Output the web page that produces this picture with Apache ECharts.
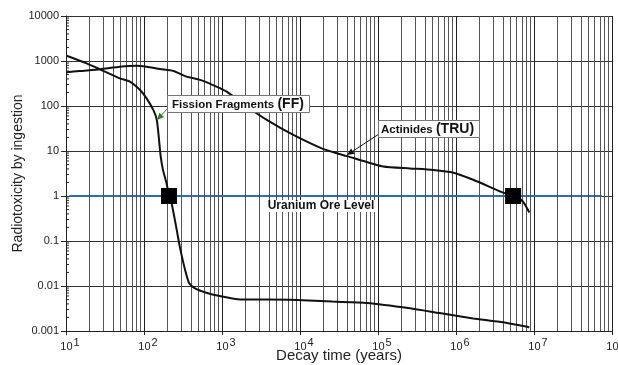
<!DOCTYPE html>
<html>
<head>
<meta charset="utf-8">
<script src="https://cdn.jsdelivr.net/npm/echarts@6/dist/echarts.min.js"></script>
<style>
html,body{margin:0;padding:0;background:#fff;}
#chart{width:618px;height:365px;}
</style>
</head>
<body>
<div id="chart"></div>
<script>
// ---- data ----
var ffTime = [10.2, 18.4, 27.3, 49, 66, 89, 108, 132, 146, 156, 163, 175, 195, 209, 226, 263, 288, 336, 380, 451, 631, 934, 1700, 3700, 9100, 26000, 71600, 257000, 615000, 1660000, 3600000, 7900000, 8700000];
var ffValue = [1312, 887, 653, 412, 348, 227, 148, 81, 49, 17.5, 8, 3.8, 1.9, 1.0, 0.69, 0.175, 0.074, 0.023, 0.0115, 0.0089, 0.0071, 0.006, 0.005, 0.005, 0.0049, 0.0045, 0.0042, 0.0032, 0.0025, 0.0019, 0.0016, 0.00126, 0.0012];
var truTime = [10.2, 15, 27.3, 49, 80, 108, 160, 238, 352, 522, 850, 1150, 2100, 3750, 8100, 20000, 40000, 117000, 257000, 510000, 930000, 1660000, 4100000, 5400000, 6900000, 7600000, 8700000];
var truValue = [561, 600, 653, 746, 787, 746, 662, 600, 450, 380, 270, 208, 96, 49, 23, 11, 7.7, 4.5, 4.1, 3.8, 3.3, 2.3, 1.17, 1.0, 0.81, 0.66, 0.43];
var oreTime = [11, 74000000];
var oreValue = [1, 1];
var crossTime = [209, 5400000];
var crossValue = [1, 1];
var yTickLabels = {'-3':'0.001','-2':'0.01','-1':'0.1','0':'1','1':'10','2':'100','3':'1000','4':'10000'};
var xAxisName = 'Decay time (years)';
var yAxisName = 'Radiotoxicity by ingestion';
var ffLabel = 'Fission Fragments';
var ffAbbr = '(FF)';
var truLabel = 'Actinides';
var truAbbr = '(TRU)';
var oreLabel = 'Uranium Ore Level';

function zip(a, b) { return a.map(function (v, i) { return [v, b[i]]; }); }

// minor grid lines at 2..9 x 10^d (vertical)
var vMinor = [];
for (var d = 1; d < 8; d++) {
  for (var k = 2; k <= 9; k++) vMinor.push({ xAxis: k * Math.pow(10, d) });
}
// y minor ticks
var yMinorTicks = [];
for (var e = -3; e < 4; e++) {
  for (var k2 = 2; k2 <= 9; k2++) yMinorTicks.push([10, k2 * Math.pow(10, e)]);
}

var chart = echarts.init(document.getElementById('chart'), null, { renderer: 'canvas' });
var font = '"Liberation Sans", Arial, Helvetica, sans-serif';

var option = {
  animation: false,
  backgroundColor: '#fff',
  textStyle: { fontFamily: font },
  grid: { left: 66, top: 16, right: 6, bottom: 34, containLabel: false, outerBoundsMode: 'none' },
  xAxis: {
    type: 'log', logBase: 10, min: 10, max: 1e8, splitNumber: 7,
    name: xAxisName, nameLocation: 'middle', nameGap: 17, nameMoveOverlap: false,
    nameTextStyle: { fontSize: 15, color: '#222', fontFamily: font },
    axisLine: { show: true, lineStyle: { color: '#222', width: 1 } },
    axisTick: { show: true, length: 4, lineStyle: { color: '#222' } },
    axisLabel: {
      margin: 6, color: '#222',
      formatter: function (v) {
        var ex = Math.round(Math.log10(v));
        return '{b|10}{s|' + ex + '}';
      },
      rich: {
        b: { fontSize: 11, fontFamily: font, color: '#222', padding: [0, 0, 0, 8] },
        s: { fontSize: 11, fontFamily: font, color: '#222', padding: [0, 0, 8, 1] }
      }
    },
    splitLine: { show: true, lineStyle: { color: '#222', width: 1 } }
  },
  yAxis: {
    type: 'log', logBase: 10, min: 0.001, max: 10000, splitNumber: 7,
    name: yAxisName, nameLocation: 'middle', nameGap: 41, nameMoveOverlap: false,
    nameTextStyle: { fontSize: 14, color: '#222', fontFamily: font },
    axisLine: { show: true, lineStyle: { color: '#222', width: 1 } },
    axisTick: { show: true, length: 5, lineStyle: { color: '#222' } },
    axisLabel: {
      margin: 7, color: '#222', fontSize: 11, fontFamily: font,
      formatter: function (v) {
        var ex = Math.round(Math.log10(v));
        return yTickLabels[String(ex)];
      }
    },
    splitLine: { show: true, lineStyle: { color: '#333', width: 1 } }
  },
  series: [
    {
      type: 'line', name: 'grid', data: [], silent: true,
      markLine: {
        silent: true, symbol: 'none', animation: false,
        label: { show: false },
        lineStyle: { color: '#555', width: 1, type: 'solid' },
        data: vMinor
      }
    },
    {
      type: 'scatter', name: 'yminor', data: yMinorTicks, silent: true,
      symbol: 'rect', symbolSize: [3, 1], symbolOffset: [1.5, 0],
      itemStyle: { color: '#222', opacity: 1 }, z: 3
    },
    {
      type: 'line', name: 'ore', data: zip(oreTime, oreValue), showSymbol: false,
      lineStyle: { color: '#2a6cb5', width: 2 }, z: 4
    },
    {
      type: 'line', name: 'FF', data: zip(ffTime, ffValue), showSymbol: false, smooth: 0.2,
      lineStyle: { color: '#111', width: 2 }, z: 5
    },
    {
      type: 'line', name: 'TRU', data: zip(truTime, truValue), showSymbol: false, smooth: 0.2,
      lineStyle: { color: '#111', width: 2 }, z: 5
    },
    {
      type: 'scatter', name: 'cross', data: zip(crossTime, crossValue),
      symbol: 'rect', symbolSize: 16, itemStyle: { color: '#000', opacity: 1 }, z: 6
    }
  ]
};
chart.setOption(option);

function arrow(x1, y1, x2, y2, color, head) {
  var ang = Math.atan2(y2 - y1, x2 - x1);
  var h = head || 7, w = 3.2;
  var bx = x2 - h * Math.cos(ang), by = y2 - h * Math.sin(ang);
  var px = -Math.sin(ang) * w, py = Math.cos(ang) * w;
  return [
    { type: 'line', shape: { x1: x1, y1: y1, x2: bx, y2: by }, style: { stroke: color, lineWidth: 1 }, z: 10 },
    { type: 'polygon', shape: { points: [[x2, y2], [bx + px, by + py], [bx - px, by - py]] }, style: { fill: color }, z: 10 }
  ];
}

var graphics = [];
graphics = graphics.concat(arrow(168, 108, 157, 120, '#2e7d1e', 7));
graphics = graphics.concat(arrow(379, 134, 347, 155, '#111', 7));
graphics.push(
  { type: 'rect', shape: { x: 167.5, y: 95.5, width: 142, height: 17 }, style: { fill: '#fff', stroke: '#777', lineWidth: 1 }, z: 11 },
  { type: 'text', x: 172, y: 104.5, style: {
      text: '{a|' + ffLabel + ' }{b|' + ffAbbr + '}',
      verticalAlign: 'middle', align: 'left',
      rich: { a: { fontSize: 11.5, fontWeight: 'bold', fontFamily: font, fill: '#111' }, b: { fontSize: 14, fontWeight: 'bold', fontFamily: font, fill: '#111' } }
    }, z: 12 },
  { type: 'rect', shape: { x: 378.5, y: 120.5, width: 101, height: 17 }, style: { fill: '#fff', stroke: '#777', lineWidth: 1 }, z: 11 },
  { type: 'text', x: 381, y: 129.5, style: {
      text: '{a|' + truLabel + ' }{b|' + truAbbr + '}',
      verticalAlign: 'middle', align: 'left',
      rich: { a: { fontSize: 11.5, fontWeight: 'bold', fontFamily: font, fill: '#111' }, b: { fontSize: 14, fontWeight: 'bold', fontFamily: font, fill: '#111' } }
    }, z: 12 },
  { type: 'text', x: 321, y: 206, style: {
      text: oreLabel, align: 'center', verticalAlign: 'middle',
      fontSize: 12, fontWeight: 'bold', fontFamily: font, fill: '#111',
      backgroundColor: '#fff', padding: [0, 2]
    }, z: 12 }
);
chart.setOption({ graphic: graphics });
</script>
</body>
</html>
